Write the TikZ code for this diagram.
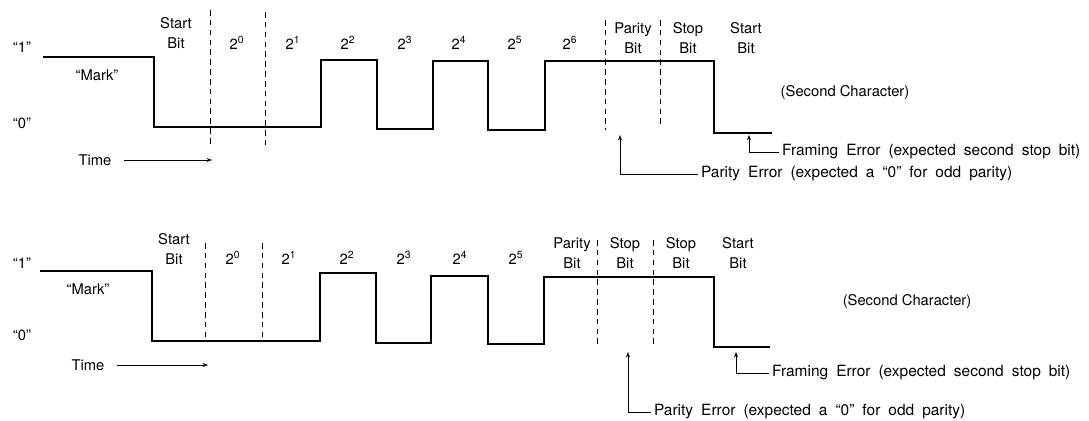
\documentclass[tikz,border=0pt]{standalone}
\usepackage{fontspec}
\setmainfont{TeX Gyre Heros}
\usetikzlibrary{arrows.meta}

\newcommand\widespaces{\spaceskip=0.52em\relax}

\tikzset{
  wave/.style={line width=1.3pt},
  bitline/.style={dash pattern=on 4pt off 3pt, line width=0.6pt},
  lbl/.style={align=center, inner sep=1pt},
  note/.style={anchor=west, inner sep=2pt,
    font=\fontsize{11}{14}\selectfont\widespaces}
}

\begin{document}
\begin{tikzpicture}[x=0.025cm,y=-0.025cm,>={Stealth[scale=0.8]},
  font=\fontsize{10.5}{14}\selectfont]

\useasboundingbox (0,0) rectangle (1089,420);

% first frame: parity error
\node[lbl] (one1) at (22,47) {``1''};
\node[lbl] (zero1) at (22,123) {``0''};
\node[lbl] (mark1) at (97,75) {``Mark''};
\node[lbl] (time1) at (95,160) {Time};
\coordinate (timeend1) at (212,160);

\draw[wave] (43,57) -- (154,57) -- (154,127) -- (321,127) -- (321,60)
  -- (377,60) -- (377,129) -- (433,129) -- (433,61) -- (488,61)
  -- (488,130) -- (545,130) -- (545,61) -- (714,61) -- (714,133) -- (772,133);

\draw[bitline] (210,10) -- (210,145);
\draw[bitline] (265,12) -- (265,145);
\draw[bitline] (605,20) -- (605,130);
\draw[bitline] (660,20) -- (660,127);

\node[lbl] (sb1) at (176,33) {Start\\Bit};
\node[lbl] (b10) at (237,43) {2\textsuperscript{0}};
\node[lbl] (b11) at (293,43) {2\textsuperscript{1}};
\node[lbl] (b12) at (348,43) {2\textsuperscript{2}};
\node[lbl] (b13) at (405,43) {2\textsuperscript{3}};
\node[lbl] (b14) at (459,43) {2\textsuperscript{4}};
\node[lbl] (b15) at (515,43) {2\textsuperscript{5}};
\node[lbl] (b16) at (570,43) {2\textsuperscript{6}};
\node[lbl] (pb1) at (633,38) {Parity\\Bit};
\node[lbl] (stb1) at (688,38) {Stop\\Bit};
\node[lbl] (nsb1) at (746,38) {Start\\Bit};
\node[lbl] (next1) at (845,93) {(Second Character)};

\node[note] (frame1) at (779,152) {Framing Error (expected second stop bit)};
\node[note] (par1) at (698,174) {Parity Error (expected a ``0'' for odd parity)};
\coordinate (ftip1) at (749,135);
\coordinate (ptip1) at (620,135);

\draw[->, shorten <=8pt] (time1.east) -- (timeend1);
\draw[->] (frame1.west) -| (ftip1);
\draw[->] (par1.west) -| (ptip1);

% second frame: framing error
\node[lbl] (one2) at (22,263) {``1''};
\node[lbl] (zero2) at (22,335) {``0''};
\node[lbl] (mark2) at (88,289) {``Mark''};
\node[lbl] (time2) at (88,365) {Time};
\coordinate (timeend2) at (208,365);

\draw[wave] (40,271) -- (152,271) -- (152,341) -- (320,341) -- (320,273)
  -- (376,273) -- (376,343) -- (431,343) -- (431,276) -- (488,276)
  -- (488,344) -- (544,344) -- (544,277) -- (714,277) -- (714,347) -- (770,347);

\draw[bitline] (205,243) -- (205,340);
\draw[bitline] (262,243) -- (262,340);
\draw[bitline] (597,240) -- (597,347);
\draw[bitline] (653,240) -- (653,347);

\node[lbl] (sb2) at (174,249) {Start\\Bit};
\node[lbl] (b20) at (233,258) {2\textsuperscript{0}};
\node[lbl] (b21) at (289,258) {2\textsuperscript{1}};
\node[lbl] (b22) at (347,258) {2\textsuperscript{2}};
\node[lbl] (b23) at (404,258) {2\textsuperscript{3}};
\node[lbl] (b24) at (460,258) {2\textsuperscript{4}};
\node[lbl] (b25) at (516,258) {2\textsuperscript{5}};
\node[lbl] (pb2) at (572,253) {Parity\\Bit};
\node[lbl] (stb2) at (625,253) {Stop\\Bit};
\node[lbl] (stc2) at (681,253) {Stop\\Bit};
\node[lbl] (nsb2) at (738,253) {Start\\Bit};
\node[lbl] (next2) at (907,302) {(Second Character)};

\node[note] (frame2) at (769,373) {Framing Error (expected second stop bit)};
\node[note] (par2) at (651,412) {Parity Error (expected a ``0'' for odd parity)};
\coordinate (ftip2) at (736,352);
\coordinate (ptip2) at (628,352);

\draw[->, shorten <=8pt] (time2.east) -- (timeend2);
\draw[->] (frame2.west) -| (ftip2);
\draw[->] (par2.west) -| (ptip2);

\end{tikzpicture}
\end{document}
